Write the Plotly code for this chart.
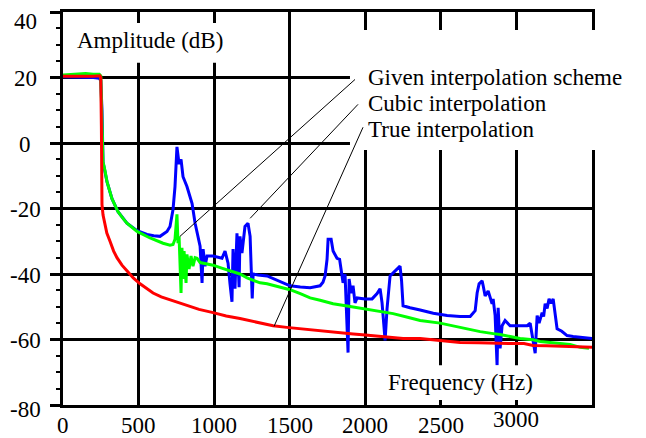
import plotly.graph_objects as go

# ---------------- data ----------------
red_f = [0, 100, 200, 245, 250, 254, 258, 265, 278, 290, 311, 335, 357, 390, 423, 465, 510,
         560, 596, 650, 708, 760, 820, 900, 993, 1080, 1171, 1280, 1390, 1480, 1568, 1635,
         1701, 1767, 1853, 1920, 2000, 2118, 2250, 2363, 2500, 2627, 2750, 2846, 2950, 3050,
         3110, 3200, 3289, 3380, 3442, 3500]
red_db = [20.4, 20.3, 20.4, 20.5, 20.0, 5.0, -18.8, -22.0, -24.8, -27.5, -30.0, -33.0, -35.0,
          -37.3, -39.0, -41.2, -43.0, -44.5, -45.8, -47.0, -47.9, -48.8, -49.7, -50.8, -51.8,
          -52.8, -53.6, -54.7, -55.8, -56.3, -56.7, -57.0, -57.4, -57.6, -58.2, -58.3, -58.6,
          -59.1, -59.7, -59.7, -60.3, -60.9, -61.0, -61.2, -61.2, -61.2, -61.8, -61.9, -62.1,
          -62.1, -62.4, -62.4]

green_f = [0, 100, 150, 200, 240, 250, 258, 265, 278, 291, 324, 364, 397, 423, 490, 576, 662,
           708, 728, 741, 754, 761, 768, 781, 787, 794, 801, 814, 820, 834, 847, 860, 874, 887,
           907, 950, 993, 1050, 1105, 1171, 1218, 1304, 1350, 1410, 1502, 1570, 1635, 1701,
           1787, 1880, 1985, 2080, 2184, 2280, 2363, 2495, 2627, 2760, 2846, 2892, 3024, 3110,
           3157, 3289, 3355, 3422, 3480]
green_db = [20.8, 21.0, 21.2, 21.0, 21.0, 20.5, 10.0, -5.8, -8.5, -11.8, -17.0, -21.0, -23.0,
            -24.5, -27.0, -29.0, -30.6, -31.2, -31.0, -29.4, -21.8, -30.6, -28.5, -45.8, -32.0,
            -41.5, -33.0, -42.7, -34.0, -38.5, -34.5, -37.6, -35.0, -35.2, -36.5, -36.8, -37.3,
            -38.2, -39.0, -40.0, -41.2, -42.7, -43.0, -43.8, -44.8, -46.0, -47.3, -48.0, -49.1,
            -49.8, -50.6, -51.3, -52.1, -53.2, -54.2, -55.0, -56.4, -57.6, -58.2, -58.5, -59.7,
            -60.1, -60.6, -61.2, -61.5, -62.4, -62.7]

blue_f = [0, 100, 200, 240, 250, 258, 265, 291, 324, 364, 397, 423, 490, 556, 600, 642,
          688, 708, 728, 741, 754, 768, 781, 794, 820, 854, 874, 893, 907, 920, 927, 940,
          953, 993, 1039, 1052, 1072, 1092, 1105, 1118, 1125, 1138, 1151, 1165, 1171, 1184,
          1204, 1224, 1238, 1248, 1252, 1258, 1290, 1350, 1420, 1502, 1570, 1635, 1701, 1720,
          1734, 1747, 1754, 1774, 1787, 1813, 1830, 1846, 1853, 1866, 1886, 1893, 1906, 1919,
          1932, 1946, 1999, 2045, 2078, 2098, 2111, 2131, 2144, 2164, 2184, 2204, 2217, 2230,
          2240, 2250, 2296, 2330, 2363, 2450, 2541, 2627, 2694, 2727, 2740, 2753, 2773, 2780,
          2793, 2813, 2839, 2846, 2859, 2872, 2879, 2892, 2905, 2925, 2958, 3024, 3071, 3091,
          3124, 3137, 3150, 3170, 3180, 3190, 3203, 3216, 3230, 3243, 3256, 3269, 3300, 3335,
          3375, 3422, 3468, 3500]
blue_db = [20.2, 20.2, 20.0, 19.8, 19.0, 10.0, -5.8, -11.8, -17.0, -21.0, -23.0, -24.5, -26.8, -27.9, -28.3, -28.5,
           -27.0, -25.5, -20.3, -13.3, -1.2, -6.4, -5.0, -10.3, -13.3, -18.5, -24.5, -28.5, -31.5, -42.7, -32.4, -37.6,
           -34.5, -34.5, -35.0, -35.2, -33.0, -36.7, -43.0, -48.5, -32.4, -44.5, -27.6, -44.0, -28.5, -33.6,
           -25.5, -24.5, -28.5, -40.6, -47.5, -40.0, -40.3, -40.6, -42.0, -43.6, -44.0, -44.2, -43.6, -42.5,
           -40.6, -35.5, -29.4, -29.4, -33.0, -35.2, -35.5, -39.7, -42.7, -40.0, -64.0, -41.5, -45.8, -43.6,
           -48.8, -47.3, -47.6, -47.6, -46.0, -44.5, -48.8, -60.3, -50.6, -40.6, -39.7, -38.5, -38.2, -37.6,
           -42.0, -49.7, -50.3, -50.6, -51.0, -52.0, -52.7, -53.0, -53.0, -51.2, -45.8, -43.0, -42.1, -43.6,
           -46.7, -45.2, -49.1, -47.6, -52.7, -67.9, -50.3, -62.7, -55.8, -54.2, -55.8, -55.8, -55.8, -55.0,
           -64.2, -52.7, -55.0, -51.8, -53.0, -49.1, -50.5, -47.6, -49.0, -47.6, -52.7, -56.7, -57.5, -58.8,
           -59.1, -59.4, -59.7, -59.7]

assert len(red_f) == len(red_db)
assert len(green_f) == len(green_db)
assert len(blue_f) == len(blue_db)

x_ticks = [0, 500, 1000, 1500, 2000, 2500, 3000]
y_ticks = [40, 20, 0, -20, -40, -60, -80]

legend_labels = ["Given interpolation scheme", "Cubic interpolation", "True interpolation"]
legend_text_db = [20.0, 12.1, 4.2]
legend_start = [(1932, 19.4), (1952, 11.8), (1985, 4.8)]
legend_target = [(774, -28.5), (1238, -23.0), (1396, -56.0)]

# ---------------- figure ----------------
FONT = "Liberation Serif, Times New Roman, serif"
FS = 23

fig = go.Figure()
fig.add_trace(go.Scatter(x=blue_f, y=blue_db, mode="lines",
                         line=dict(color="#0000FF", width=3), showlegend=False))
fig.add_trace(go.Scatter(x=green_f, y=green_db, mode="lines",
                         line=dict(color="#00FF00", width=3), showlegend=False))
fig.add_trace(go.Scatter(x=red_f, y=red_db, mode="lines",
                         line=dict(color="#FF0000", width=3), showlegend=False))

fig.update_layout(
    width=646, height=438,
    margin=dict(l=63, r=54, t=9, b=33),
    paper_bgcolor="white", plot_bgcolor="white",
    font=dict(family=FONT, size=FS, color="black"),
    xaxis=dict(range=[0, 3500], tick0=0, dtick=500, showgrid=True, gridcolor="black",
               gridwidth=3, showline=True, linecolor="black", linewidth=3, mirror=True,
               ticks="", showticklabels=False, zeroline=False, fixedrange=True),
    yaxis=dict(range=[-80, 40], tick0=0, dtick=20, showgrid=True, gridcolor="black",
               gridwidth=3, showline=True, linecolor="black", linewidth=3, mirror=True,
               ticks="outside", ticklen=10, tickwidth=3, tickcolor="black",
               minor=dict(dtick=5, ticks="outside", ticklen=4, tickwidth=2,
                          tickcolor="black", showgrid=False),
               showticklabels=False, zeroline=False, fixedrange=True),
)

# white boxes behind the texts (cover grid lines)
boxes = [
    (0.5425, 1.02, 0.649, 0.9545),
    (0.0132, 0.325, 0.871, 0.972),
    (0.6125, 0.9017, 0.0126, 0.101),
]
for x0, x1, y0, y1 in boxes:
    fig.add_shape(type="rect", xref="paper", yref="paper", x0=x0, x1=x1, y0=y0, y1=y1,
                  fillcolor="white", line=dict(width=0), layer="above")

# leader lines
for (sx, sy), (tx, ty) in zip(legend_start, legend_target):
    fig.add_shape(type="line", xref="x", yref="y", x0=sx, y0=sy, x1=tx, y1=ty,
                  line=dict(color="black", width=1), layer="above")

# legend texts
for lab, ydb in zip(legend_labels, legend_text_db):
    fig.add_annotation(x=2005, y=ydb, xref="x", yref="y", text=lab, showarrow=False,
                       xanchor="left", yanchor="middle", font=dict(family=FONT, size=FS))

# axis titles
fig.add_annotation(x=80, y=31.2, xref="x", yref="y", text="Amplitude (dB)", showarrow=False,
                   xanchor="left", yanchor="middle", font=dict(family=FONT, size=FS))
fig.add_annotation(x=2140, y=-73.0, xref="x", yref="y", text="Frequency (Hz)", showarrow=False,
                   xanchor="left", yanchor="middle", font=dict(family=FONT, size=FS))

# tick labels
y_nudge = {40: -9, -80: -4}
for v in y_ticks:
    fig.add_annotation(x=0, y=v, xref="paper", yref="y", text=str(v), showarrow=False,
                       xanchor="center", yanchor="middle", xshift=-38,
                       yshift=y_nudge.get(v, -1), font=dict(family=FONT, size=FS))
for v in x_ticks:
    fig.add_annotation(x=v, y=0, xref="x", yref="paper", text=str(v), showarrow=False,
                       xanchor="center", yanchor="middle", yshift=-20 + (6 if v == 3000 else 0),
                       font=dict(family=FONT, size=FS))

fig.write_html("out.html")
